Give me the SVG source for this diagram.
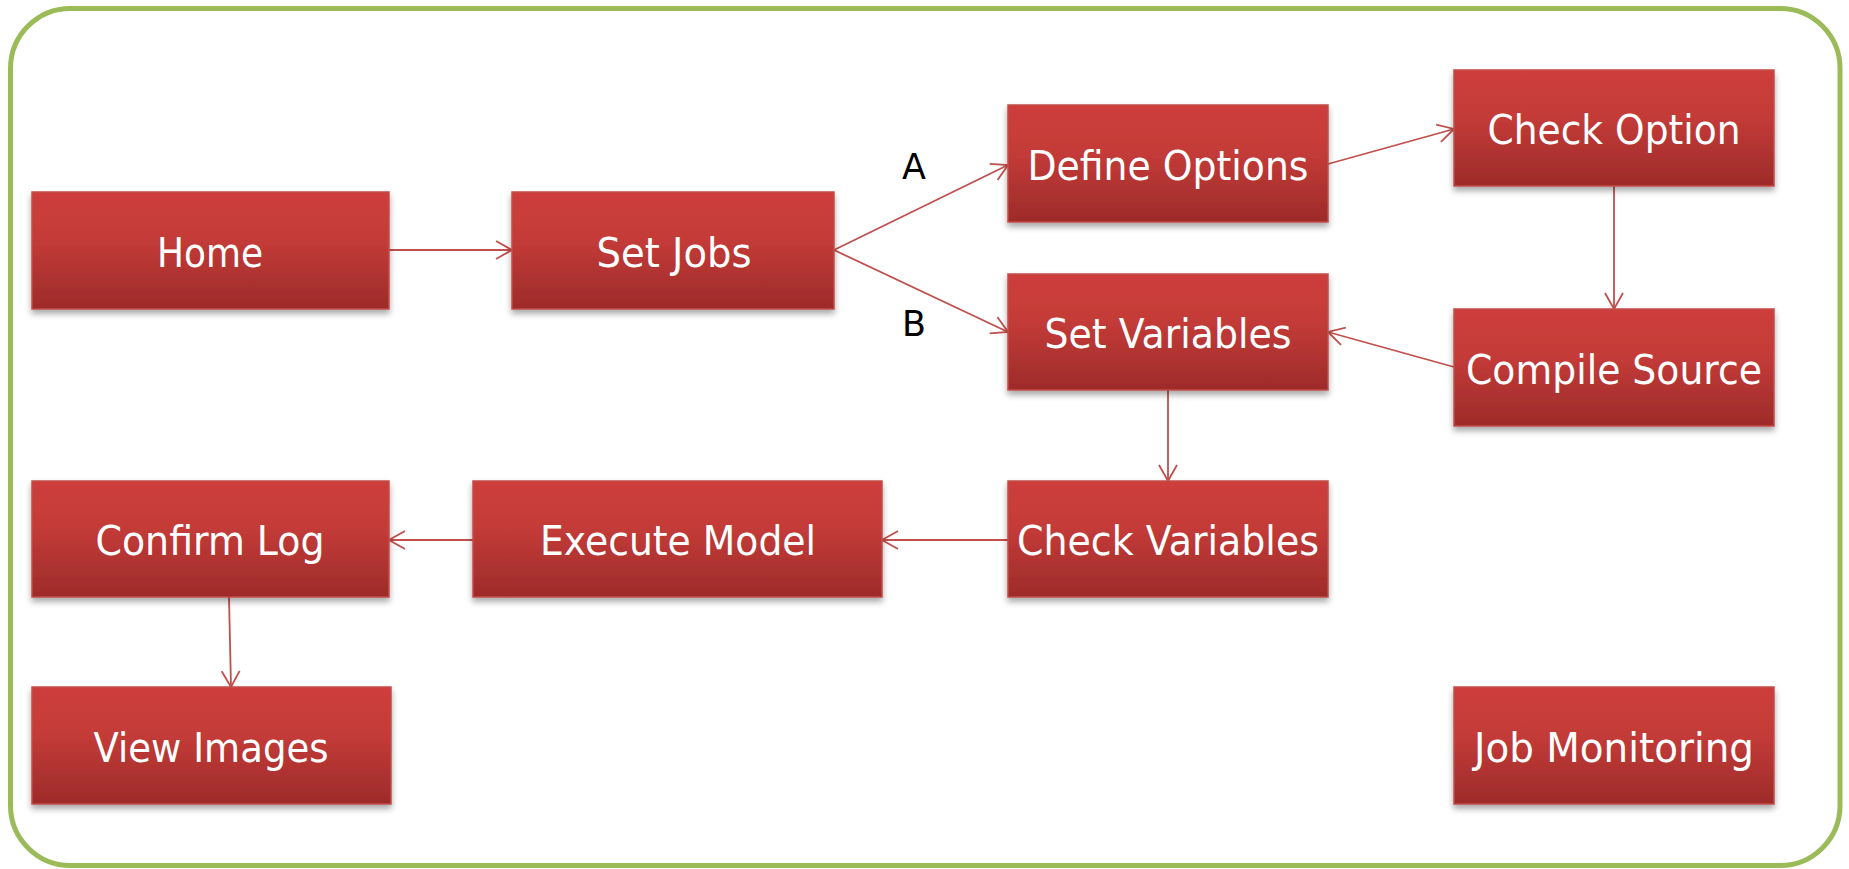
<svg xmlns="http://www.w3.org/2000/svg" width="1849" height="869" viewBox="0 0 1849 869">
<defs>
<linearGradient id="g" x1="0" y1="0" x2="0" y2="1">
<stop offset="0" stop-color="#CD3E3B"/>
<stop offset="0.4" stop-color="#C43B38"/>
<stop offset="1" stop-color="#9D2B2A"/>
</linearGradient>
<filter id="sh" x="-10%" y="-10%" width="120%" height="130%">
<feDropShadow dx="0" dy="4" stdDeviation="3" flood-color="#000" flood-opacity="0.35"/>
</filter>
<marker id="ah" viewBox="0 0 18 20" markerWidth="18" markerHeight="20" refX="17" refY="10" orient="auto" markerUnits="userSpaceOnUse">
<path d="M1,1 L17,10 L1,19" fill="none" stroke="#C0504D" stroke-width="1.8"/>
</marker>
</defs>
<style>
.n rect{fill:url(#g);stroke:#C24D4A;stroke-width:1.5;filter:url(#sh)}
.n text{font-family:"DejaVu Sans",sans-serif;font-size:40px;fill:#fff;text-anchor:middle}
.c path{fill:none;stroke:#C0504D;stroke-width:1.8;marker-end:url(#ah)}
.lbl{font-family:"DejaVu Sans",sans-serif;font-size:35px;fill:#000;text-anchor:middle}
</style>
<rect x="10.5" y="8.5" width="1829.5" height="857" rx="60" ry="60" fill="#fff" stroke="#9BBB59" stroke-width="5"/>
<g id="connectors" class="c">
<path d="M389,250 L512,250"/>
<path d="M834,250 L1008,165"/>
<path d="M834,250 L1008,332"/>
<path d="M1328,164 L1454,129"/>
<path d="M1614,186 L1614,309"/>
<path d="M1454,367 L1328,332"/>
<path d="M1168,390 L1168,481"/>
<path d="M1008,540 L882,540"/>
<path d="M473,540 L389,540"/>
<path d="M229,597 L231,687"/>
</g>
<text class="lbl" x="914" y="179">A</text>
<text class="lbl" x="914" y="336">B</text>
<g id="home" class="n"><rect x="32" y="192" width="357" height="117"/><text x="210" y="267" textLength="106" lengthAdjust="spacingAndGlyphs">Home</text></g>
<g id="setjobs" class="n"><rect x="512" y="192" width="322" height="117"/><text x="674" y="267" textLength="155" lengthAdjust="spacingAndGlyphs">Set Jobs</text></g>
<g id="defineoptions" class="n"><rect x="1008" y="105" width="320" height="117"/><text x="1168" y="180" textLength="281" lengthAdjust="spacingAndGlyphs">Define Options</text></g>
<g id="checkoption" class="n"><rect x="1454" y="70" width="320" height="116"/><text x="1614" y="144" textLength="253" lengthAdjust="spacingAndGlyphs">Check Option</text></g>
<g id="setvariables" class="n"><rect x="1008" y="274" width="320" height="116"/><text x="1168" y="348" textLength="247" lengthAdjust="spacingAndGlyphs">Set Variables</text></g>
<g id="compilesource" class="n"><rect x="1454" y="309" width="320" height="117"/><text x="1614" y="384" textLength="296" lengthAdjust="spacingAndGlyphs">Compile Source</text></g>
<g id="confirmlog" class="n"><rect x="32" y="481" width="357" height="116"/><text x="210" y="555" textLength="229" lengthAdjust="spacingAndGlyphs">Confirm Log</text></g>
<g id="executemodel" class="n"><rect x="473" y="481" width="409" height="116"/><text x="678" y="555" textLength="276" lengthAdjust="spacingAndGlyphs">Execute Model</text></g>
<g id="checkvariables" class="n"><rect x="1008" y="481" width="320" height="116"/><text x="1168" y="555" textLength="302" lengthAdjust="spacingAndGlyphs">Check Variables</text></g>
<g id="viewimages" class="n"><rect x="32" y="687" width="359" height="117"/><text x="211" y="762" textLength="235" lengthAdjust="spacingAndGlyphs">View Images</text></g>
<g id="jobmonitoring" class="n"><rect x="1454" y="687" width="320" height="117"/><text x="1614" y="762" textLength="280" lengthAdjust="spacingAndGlyphs">Job Monitoring</text></g>
</svg>
